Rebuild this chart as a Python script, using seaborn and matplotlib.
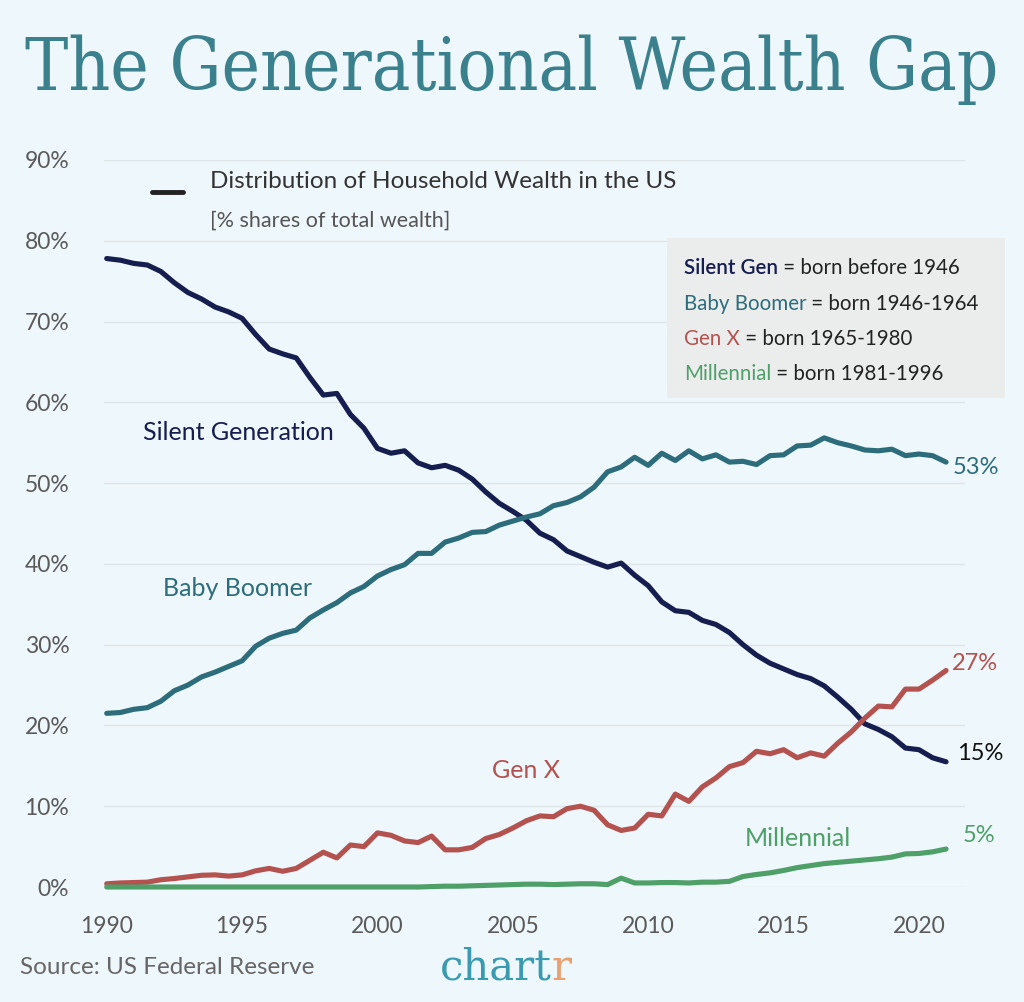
import numpy as np
import pandas as pd
import matplotlib
matplotlib.use("Agg")
import matplotlib.pyplot as plt
from matplotlib.lines import Line2D
import seaborn as sns

# half-year points, 1990 - 2021
years = np.arange(1990, 2021.01, 0.5)

silent = [77.8, 77.6, 77.2, 77.0, 76.2, 74.8, 73.6, 72.8, 71.8, 71.2,
          70.4, 68.4, 66.6, 66.0, 65.5, 63.1, 60.9, 61.1, 58.5, 56.8,
          54.3, 53.7, 54.0, 52.5, 51.9, 52.2, 51.6, 50.5, 48.9, 47.5,
          46.5, 45.4, 43.8, 43.0, 41.6, 40.9, 40.2, 39.6, 40.1, 38.6,
          37.3, 35.3, 34.2, 34.0, 33.0, 32.5, 31.5, 30.0, 28.7, 27.7,
          27.0, 26.3, 25.8, 24.9, 23.5, 22.0, 20.2, 19.5, 18.6, 17.2,
          17.0, 16.0, 15.5]
boomer = [21.5, 21.6, 22.0, 22.2, 23.0, 24.3, 25.0, 26.0, 26.6, 27.3,
          28.0, 29.8, 30.8, 31.4, 31.8, 33.3, 34.3, 35.2, 36.4, 37.2,
          38.5, 39.3, 39.9, 41.3, 41.3, 42.7, 43.2, 43.9, 44.0, 44.8,
          45.3, 45.8, 46.2, 47.2, 47.6, 48.3, 49.5, 51.4, 52.0, 53.2,
          52.2, 53.7, 52.8, 54.0, 53.0, 53.5, 52.6, 52.7, 52.3, 53.4,
          53.5, 54.6, 54.7, 55.6, 55.0, 54.6, 54.1, 54.0, 54.2, 53.4,
          53.6, 53.4, 52.6]
genx = [0.4, 0.5, 0.55, 0.6, 0.9, 1.05, 1.25, 1.45, 1.5, 1.35,
        1.5, 2.0, 2.3, 1.95, 2.3, 3.3, 4.3, 3.6, 5.2, 5.0,
        6.7, 6.4, 5.7, 5.5, 6.3, 4.6, 4.6, 4.9, 6.0, 6.5,
        7.3, 8.2, 8.8, 8.7, 9.7, 10.0, 9.5, 7.7, 7.0, 7.3,
        9.0, 8.8, 11.5, 10.6, 12.4, 13.5, 14.9, 15.4, 16.8, 16.5,
        17.0, 16.0, 16.6, 16.2, 17.8, 19.2, 20.9, 22.4, 22.3, 24.5,
        24.5, 25.6, 26.8]
millennial = [0.0] * 24 + [
    0.05, 0.1, 0.1, 0.15, 0.2, 0.25, 0.3, 0.35, 0.35, 0.3,
    0.35, 0.4, 0.4, 0.3, 1.1, 0.5, 0.5, 0.55, 0.55, 0.5,
    0.6, 0.6, 0.7, 1.3, 1.55, 1.75, 2.05, 2.4, 2.65, 2.9,
    3.05, 3.2, 3.35, 3.5, 3.7, 4.1, 4.15, 4.35, 4.7]

generations = ["Silent Gen", "Baby Boomer", "Gen X", "Millennial"]
born = ["born before 1946", "born 1946-1964", "born 1965-1980", "born 1981-1996"]
line_labels = ["Silent Generation", "Baby Boomer", "Gen X", "Millennial"]
end_labels = ["15%", "53%", "27%", "5%"]
xticks = [1990, 1995, 2000, 2005, 2010, 2015, 2020]
yticks = [0, 10, 20, 30, 40, 50, 60, 70, 80, 90]

colors = {"Silent Gen": "#161d4f", "Baby Boomer": "#2d6d7b",
          "Gen X": "#b3524f", "Millennial": "#4f9f69"}
bg = "#eef7fb"

df = pd.DataFrame({
    "year": np.tile(years, 4),
    "share": silent + boomer + genx + millennial,
    "gen": np.repeat(generations, len(years)),
})

sns.set_theme(style="white")
plt.rcParams["font.family"] = ["Lato", "DejaVu Sans"]

fig = plt.figure(figsize=(10.24, 10.02), dpi=100, facecolor=bg)
ax = fig.add_axes([104 / 1024, 1 - 887 / 1002, 861 / 1024, 727 / 1002])
ax.set_facecolor(bg)

sns.lineplot(data=df, x="year", y="share", hue="gen", palette=colors,
             linewidth=3.7, legend=False, ax=ax, clip_on=False, zorder=3)

ax.set_xlim(1989.9, 2021.7)
ax.set_ylim(0, 90)
ax.set_yticks(yticks)
ax.set_yticklabels([f"{v}%" for v in yticks])
ax.set_xticks(xticks)
ax.set_xticklabels([str(v) for v in xticks])
ax.tick_params(axis="both", length=0, labelsize=16.5, labelcolor="#5a5a5a")
ax.tick_params(axis="y", pad=25)
ax.tick_params(axis="x", pad=21)
ax.yaxis.grid(True, color="#dfe6ea", linewidth=1.0)
ax.xaxis.grid(False)
for s in ax.spines.values():
    s.set_visible(False)
ax.set_xlabel("")
ax.set_ylabel("")

fig.canvas.draw()
r = fig.canvas.get_renderer()

# title, sized to fill the width
title = fig.text(25 / 1024, 1 - 70 / 1002, "The Generational Wealth Gap",
                 fontsize=50, color="#3a808d", family=["DejaVu Serif"],
                 fontstretch="condensed", va="center", ha="left")
w = title.get_window_extent(renderer=r).width
title.set_fontsize(50 * 975 / w)

# subtitle block
fig.add_artist(Line2D([152 / 1024, 183 / 1024], [1 - 192 / 1002, 1 - 192 / 1002],
                      color="#222222", linewidth=3.5, transform=fig.transFigure))
fig.text(210 / 1024, 1 - 182 / 1002, "Distribution of Household Wealth in the US",
         fontsize=17.5, color="#333333", va="center")
fig.text(210 / 1024, 1 - 221 / 1002, "[% shares of total wealth]",
         fontsize=15.5, color="#555555", va="center")

# key box
fig.patches.append(plt.Rectangle((667 / 1024, 1 - 398 / 1002), 338 / 1024, 160 / 1002,
                                 transform=fig.transFigure, facecolor="#ebeded",
                                 edgecolor="none", zorder=1))
for i, (g, b) in enumerate(zip(generations, born)):
    yy = 1 - (268 + i * 35.5) / 1002
    t = fig.text(684 / 1024, yy, g, fontsize=14.8, color=colors[g], va="center",
                 fontweight="semibold" if i == 0 else "normal", zorder=2)
    bb = t.get_window_extent(renderer=r)
    fig.text(bb.x1 / fig.bbox.width, yy, f" = {b}", fontsize=14.8,
             color="#222222", va="center", zorder=2)

# line labels
lab_pos = [(143, 433), (163, 589), (492, 771), (745, 838)]
for g, lab, (px, py) in zip(generations, line_labels, lab_pos):
    fig.text(px / 1024, 1 - py / 1002, lab, fontsize=18, color=colors[g], va="center")

end_pos = [(957, 753), (953, 468), (952, 663), (963, 835)]
end_cols = ["#111111", colors["Baby Boomer"], colors["Gen X"], colors["Millennial"]]
for lab, (px, py), c in zip(end_labels, end_pos, end_cols):
    fig.text(px / 1024, 1 - py / 1002, lab, fontsize=17, color=c, va="center")

# footer
fig.text(20 / 1024, 1 - 968 / 1002, "Source: US Federal Reserve",
         fontsize=17.5, color="#666666", va="center")
ct = fig.text(440 / 1024, 1 - 968 / 1002, "chart", fontsize=30, color="#3a9bb0",
              family=["DejaVu Serif"], va="center")
bb = ct.get_window_extent(renderer=r)
fig.text(bb.x1 / fig.bbox.width, 1 - 968 / 1002, "r", fontsize=30, color="#e8a070",
         family=["DejaVu Serif"], va="center")

fig.savefig("out.png", dpi=100, facecolor=bg)
